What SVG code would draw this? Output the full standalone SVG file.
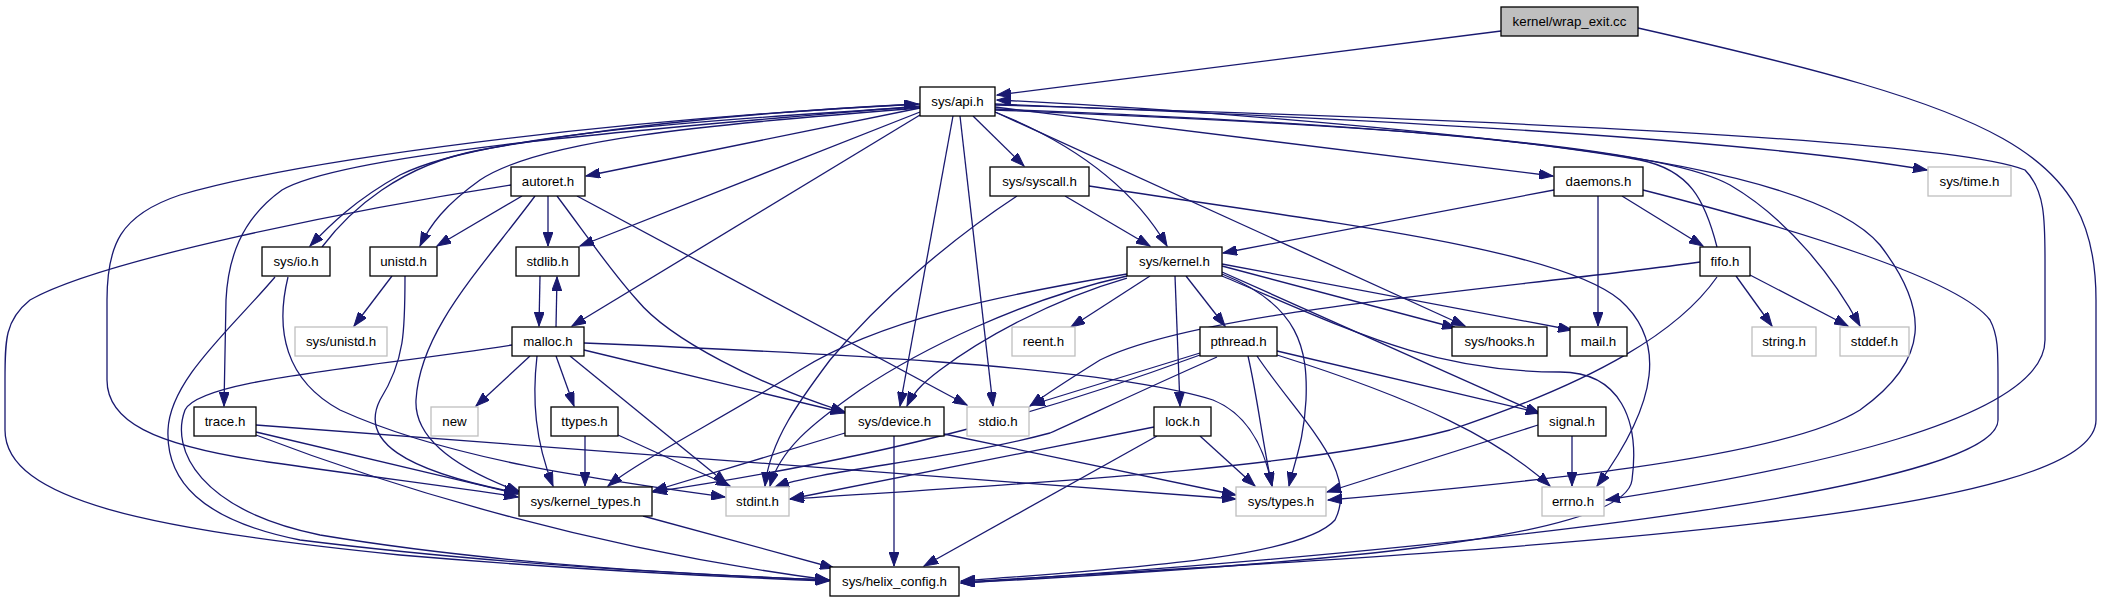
<svg xmlns="http://www.w3.org/2000/svg" width="2104" height="603" viewBox="0 0 2104 603">
<style>
.n rect{fill:#fff;stroke:#000;stroke-width:1.3}
.g rect{fill:#fff;stroke:#bfbfbf;stroke-width:1.3}
.r rect{fill:#bfbfbf;stroke:#000;stroke-width:1.3}
text{font-family:"Liberation Sans",Arial,Helvetica,sans-serif;font-size:13.3px;fill:#000;text-anchor:middle}
.e path{fill:none;stroke:#191970;stroke-width:1.3;marker-end:url(#a)}
</style>
<defs>
<marker id="a" markerWidth="15" markerHeight="10" refX="14" refY="5" orient="auto" markerUnits="userSpaceOnUse">
<path d="M0,0 L14,5 L0,10 z" fill="#191970" stroke="#191970" stroke-width="1"/>
</marker>
</defs>
<rect width="2104" height="603" fill="#fff"/>
<g id="edges" class="e">
<path d="M1501,31 L997,95"/>
<path d="M1638,28 C2000,110 2096,150 2096,300 L2096,420 C2096,520 1500,550 961,582"/>
<path d="M920,108 L586,176"/>
<path d="M973,116 L1024,166"/>
<path d="M995,107 L1553,176"/>
<path d="M995,104 C1400,120 1750,140 1927,170"/>
<path d="M995,112 C1090,150 1140,200 1167,246"/>
<path d="M995,112 L1465,326"/>
<path d="M995,110 C1300,122 1650,140 1730,185 C1790,220 1835,280 1860,326"/>
<path d="M995,109 C1400,125 1800,150 1880,245 C1930,310 1930,360 1860,410 C1780,460 1500,485 1328,500"/>
<path d="M995,105 C1500,120 1950,140 2025,170 C2045,190 2045,220 2045,260 L2045,340 C2045,420 1800,470 1606,500"/>
<path d="M1717,247 C1705,200 1690,170 1640,160 C1500,135 1200,110 997,100"/>
<path d="M920,106 C700,125 350,150 282,190 C240,220 228,260 226,300 L224,406"/>
<path d="M920,107 C700,120 480,135 400,175 C355,200 330,225 310,246"/>
<path d="M322,247 C350,210 400,165 480,150 C650,120 800,110 918,104"/>
<path d="M920,108 C700,125 540,140 480,180 C445,205 430,225 420,246"/>
<path d="M920,104 C600,120 300,160 180,195 C120,215 107,245 107,300 L107,380 C107,420 150,445 268,462 C380,478 460,488 518,497"/>
<path d="M920,112 L580,246"/>
<path d="M920,115 L572,326"/>
<path d="M953,116 L900,406"/>
<path d="M960,116 L993,406"/>
<path d="M511,185 C350,210 100,260 30,300 C5,320 5,340 5,380 L5,430 C5,500 150,530 400,555 C600,572 750,578 829,581"/>
<path d="M522,196 L437,246"/>
<path d="M548,196 L548,246"/>
<path d="M535,196 C480,270 420,330 416,400 C414,440 460,470 520,492"/>
<path d="M557,196 C590,240 610,270 637,300 C670,340 760,385 845,412"/>
<path d="M577,196 L967,405"/>
<path d="M275,277 C230,330 170,380 168,430 C166,480 200,520 300,540 C500,565 700,575 829,580"/>
<path d="M288,277 C275,330 285,380 340,410 C450,460 600,480 725,497"/>
<path d="M392,276 L354,326"/>
<path d="M405,276 C405,330 405,360 380,400 C360,440 400,470 518,493"/>
<path d="M540,276 L539,326"/>
<path d="M556,327 L557,277"/>
<path d="M1065,196 L1150,246"/>
<path d="M1017,196 C950,240 880,300 830,360 C800,400 770,440 765,486"/>
<path d="M1089,186 C1350,225 1560,250 1620,300 C1665,340 1660,400 1597,486"/>
<path d="M1554,190 L1223,253"/>
<path d="M1622,196 L1703,246"/>
<path d="M1598,196 L1598,326"/>
<path d="M1643,190 C1800,230 1960,280 1990,320 C1998,335 1998,350 1998,380 L1998,420 C1998,480 1600,540 961,583"/>
<path d="M1150,276 L1071,327"/>
<path d="M1175,276 L1180,406"/>
<path d="M1186,276 L1225,326"/>
<path d="M1222,266 L1456,328"/>
<path d="M1222,264 L1572,330"/>
<path d="M1222,272 L1540,414"/>
<path d="M1222,274 C1300,305 1308,350 1306,400 C1304,440 1295,460 1289,486"/>
<path d="M1222,276 C1350,330 1430,372 1560,372 C1620,372 1640,420 1632,480 C1625,540 1300,565 961,583"/>
<path d="M1127,274 C1000,295 880,320 800,370 C720,420 640,460 608,486"/>
<path d="M1127,278 C1050,300 980,340 940,370 C920,385 912,395 907,406"/>
<path d="M1127,276 C1020,300 920,350 860,390 C810,425 780,450 770,486"/>
<path d="M1736,276 L1772,326"/>
<path d="M1750,275 L1848,326"/>
<path d="M1700,262 C1500,290 1200,310 1100,360 C1060,385 1045,395 1030,406"/>
<path d="M1717,277 C1680,330 1600,380 1450,430 C1300,470 1000,485 790,499"/>
<path d="M512,345 C350,370 200,380 185,410 C170,450 200,510 320,535 C500,565 700,575 829,580"/>
<path d="M530,356 L476,406"/>
<path d="M556,356 L574,406"/>
<path d="M537,356 C532,400 535,440 553,486"/>
<path d="M570,356 L727,484"/>
<path d="M584,350 L845,413"/>
<path d="M584,343 C800,352 1100,365 1213,400 C1250,415 1265,450 1272,486"/>
<path d="M256,425 L1236,499"/>
<path d="M256,432 L518,494"/>
<path d="M256,435 C400,490 600,550 829,580"/>
<path d="M585,436 L585,486"/>
<path d="M618,435 L730,486"/>
<path d="M845,433 L653,491"/>
<path d="M944,434 L1236,495"/>
<path d="M894,436 L894,566"/>
<path d="M1200,353 L1031,405"/>
<path d="M1200,355 C1050,410 900,455 653,492"/>
<path d="M1217,357 C1120,400 1080,420 1050,433 C950,460 820,470 775,487"/>
<path d="M1248,356 C1258,400 1262,440 1272,486"/>
<path d="M1257,356 C1300,420 1360,470 1335,520 C1300,560 1100,570 961,581"/>
<path d="M1277,351 L1540,413"/>
<path d="M1277,355 C1420,400 1500,440 1550,486"/>
<path d="M1154,427 L790,499"/>
<path d="M1200,436 L1255,486"/>
<path d="M1157,436 L924,566"/>
<path d="M1538,425 L1327,492"/>
<path d="M1572,436 L1572,486"/>
<path d="M643,516 L834,568"/>
</g>
<g id="n_root" class="r"><rect x="1501" y="7" width="137" height="29"/><text x="1569.5" y="26.2">kernel/wrap_exit.cc</text></g>
<g id="n_api" class="n"><rect x="920" y="87" width="75" height="29"/><text x="957.5" y="106.2">sys/api.h</text></g>
<g id="n_autoret" class="n"><rect x="511" y="167" width="74" height="29"/><text x="548" y="186.2">autoret.h</text></g>
<g id="n_syscall" class="n"><rect x="990" y="167" width="99" height="29"/><text x="1039.5" y="186.2">sys/syscall.h</text></g>
<g id="n_daemons" class="n"><rect x="1554" y="167" width="89" height="29"/><text x="1598.5" y="186.2">daemons.h</text></g>
<g id="n_time" class="g"><rect x="1928" y="167" width="83" height="29"/><text x="1969.5" y="186.2">sys/time.h</text></g>
<g id="n_io" class="n"><rect x="262" y="247" width="68" height="29"/><text x="296" y="266.2">sys/io.h</text></g>
<g id="n_unistd" class="n"><rect x="370" y="247" width="67" height="29"/><text x="403.5" y="266.2">unistd.h</text></g>
<g id="n_stdlib" class="n"><rect x="516" y="247" width="63" height="29"/><text x="547.5" y="266.2">stdlib.h</text></g>
<g id="n_kernel" class="n"><rect x="1127" y="247" width="95" height="29"/><text x="1174.5" y="266.2">sys/kernel.h</text></g>
<g id="n_fifo" class="n"><rect x="1700" y="247" width="50" height="29"/><text x="1725" y="266.2">fifo.h</text></g>
<g id="n_sysunistd" class="g"><rect x="295" y="327" width="92" height="29"/><text x="341" y="346.2">sys/unistd.h</text></g>
<g id="n_malloc" class="n"><rect x="512" y="327" width="72" height="29"/><text x="548" y="346.2">malloc.h</text></g>
<g id="n_reent" class="g"><rect x="1012" y="327" width="63" height="29"/><text x="1043.5" y="346.2">reent.h</text></g>
<g id="n_pthread" class="n"><rect x="1200" y="327" width="77" height="29"/><text x="1238.5" y="346.2">pthread.h</text></g>
<g id="n_hooks" class="n"><rect x="1452" y="327" width="95" height="29"/><text x="1499.5" y="346.2">sys/hooks.h</text></g>
<g id="n_mail" class="n"><rect x="1570" y="327" width="57" height="29"/><text x="1598.5" y="346.2">mail.h</text></g>
<g id="n_string" class="g"><rect x="1752" y="327" width="64" height="29"/><text x="1784" y="346.2">string.h</text></g>
<g id="n_stddef" class="g"><rect x="1840" y="327" width="69" height="29"/><text x="1874.5" y="346.2">stddef.h</text></g>
<g id="n_trace" class="n"><rect x="194" y="407" width="62" height="29"/><text x="225" y="426.2">trace.h</text></g>
<g id="n_new" class="g"><rect x="431" y="407" width="47" height="29"/><text x="454.5" y="426.2">new</text></g>
<g id="n_ttypes" class="n"><rect x="551" y="407" width="67" height="29"/><text x="584.5" y="426.2">ttypes.h</text></g>
<g id="n_device" class="n"><rect x="845" y="407" width="99" height="29"/><text x="894.5" y="426.2">sys/device.h</text></g>
<g id="n_stdio" class="g"><rect x="967" y="407" width="62" height="29"/><text x="998" y="426.2">stdio.h</text></g>
<g id="n_lock" class="n"><rect x="1154" y="407" width="57" height="29"/><text x="1182.5" y="426.2">lock.h</text></g>
<g id="n_signal" class="n"><rect x="1538" y="407" width="68" height="29"/><text x="1572" y="426.2">signal.h</text></g>
<g id="n_ktypes" class="n"><rect x="519" y="487" width="133" height="29"/><text x="585.5" y="506.2">sys/kernel_types.h</text></g>
<g id="n_stdint" class="g"><rect x="726" y="487" width="63" height="29"/><text x="757.5" y="506.2">stdint.h</text></g>
<g id="n_types" class="g"><rect x="1236" y="487" width="90" height="29"/><text x="1281" y="506.2">sys/types.h</text></g>
<g id="n_errno" class="g"><rect x="1542" y="487" width="62" height="29"/><text x="1573" y="506.2">errno.h</text></g>
<g id="n_helix" class="n"><rect x="830" y="567" width="129" height="29"/><text x="894.5" y="586.2">sys/helix_config.h</text></g>
</svg>
